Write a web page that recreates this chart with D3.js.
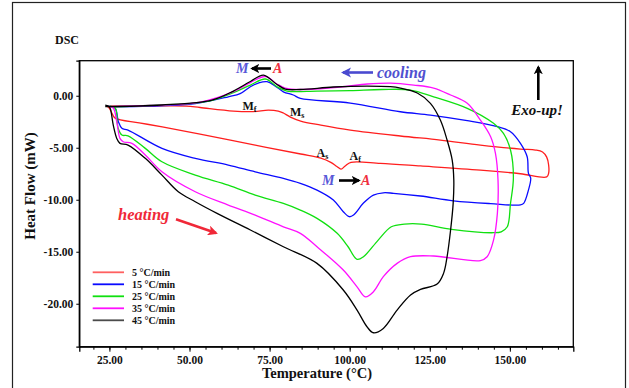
<!DOCTYPE html>
<html>
<head>
<meta charset="utf-8">
<script src="https://cdn.jsdelivr.net/npm/d3@7"></script>
<style>
  body { margin: 0; background: #fff; }
  svg { display: block; }
  text { font-family: "Liberation Serif", "DejaVu Serif", serif; font-weight: bold; }
</style>
</head>
<body>
<svg id="chart" width="629" height="388"></svg>
<script>
// DSC loops [temperature °C, heat flow mW], heating branch then cooling branch
var rate5 = [[24.0,-0.95],[25.0,-1.2],[25.9,-1.75],[26.8,-2.15],[34.3,-2.6],[41.5,-3.0],[53.3,-3.7],[70.5,-4.75],
  [84.7,-5.6],[91.0,-6.0],[94.1,-6.4],[96.0,-6.8],[97.3,-7.05],[98.6,-6.75],[100.4,-6.4],[109.6,-6.5],[122.1,-6.75],
  [140.8,-7.15],[153.3,-7.5],[161.5,-7.8],[162.1,-7.44],[162.1,-6.66],[161.5,-5.9],[160.2,-5.41],[158.0,-5.22],
  [153.3,-5.13],[140.8,-4.74],[128.3,-4.26],[115.8,-3.87],[100.2,-3.3],[91.0,-2.82],[84.7,-2.43],[81.5,-2.05],
  [79.3,-1.66],[77.7,-1.47],[74.6,-1.38],[69.9,-1.52],[63.7,-1.47],[53.3,-1.13],[49.0,-0.99],[37.7,-0.99],[25.2,-0.99]];

var rate15 = [[24.6,-0.99],[26.8,-1.21],[27.8,-2.5],[28.9,-3.13],[30.8,-3.3],[41.4,-5.06],[51.8,-6.02],[62.1,-6.66],
  [70.5,-7.31],[79.3,-7.94],[84.6,-8.42],[89.8,-9.07],[94.9,-10.02],[98.0,-11.15],[99.9,-11.63],[101.2,-11.47],
  [104.3,-10.32],[107.4,-9.55],[110.5,-9.33],[113.7,-9.38],[122.1,-9.64],[132.4,-10.1],[144.0,-10.37],[153.3,-10.5],
  [154.3,-10.35],[155.8,-9.07],[156.5,-7.91],[155.8,-7.46],[155.4,-5.87],[153.3,-4.58],[150.2,-3.46],[146.1,-2.98],
  [136.7,-2.4],[125.2,-1.86],[115.8,-1.54],[100.2,-0.7],[84.6,-0.25],[82.4,0.07],[79.3,0.38],[76.8,0.93],[74.2,1.35],
  [71.5,1.22],[69.0,0.87],[65.8,0.2],[62.1,-0.1],[51.8,-0.75],[37.7,-0.99],[25.8,-1.06]];

var rate25 = [[24.6,-0.99],[26.8,-1.18],[27.7,-3.1],[28.9,-3.78],[30.8,-3.85],[36.2,-5.06],[41.4,-6.35],[51.8,-7.63],
  [62.1,-8.59],[70.5,-9.55],[79.3,-10.35],[84.6,-10.99],[89.8,-11.79],[96.1,-13.23],[99.5,-14.52],[102.3,-15.73],
  [104.3,-15.48],[108.9,-13.88],[113.0,-12.6],[117.1,-12.34],[122.4,-12.34],[131.8,-12.85],[144.9,-13.17],
  [147.3,-13.08],[149.2,-12.6],[150.2,-10.35],[151.1,-7.91],[150.2,-5.22],[148.0,-3.62],[144.9,-2.65],[136.7,-1.21],
  [126.2,-0.1],[119.0,0.55],[110.0,0.6],[100.2,0.5],[89.8,0.45],[80.4,0.45],[77.3,0.87],[73.7,1.61],[69.0,1.03],
  [63.7,0.3],[57.0,-0.45],[51.8,-0.7],[37.7,-0.94],[25.8,-1.06]];

var rate35 = [[24.6,-0.99],[26.2,-1.18],[27.3,-2.5],[28.3,-4.1],[29.3,-4.42],[32.0,-4.58],[36.2,-5.7],[41.4,-7.31],
  [51.8,-9.23],[62.1,-10.51],[70.5,-11.47],[79.3,-12.6],[84.6,-13.23],[89.8,-14.52],[98.0,-16.76],[102.3,-18.37],
  [104.9,-19.33],[107.4,-18.85],[110.5,-17.4],[114.8,-16.12],[119.0,-15.48],[126.2,-15.41],[140.8,-15.85],
  [142.9,-15.48],[144.9,-13.88],[146.1,-11.31],[146.3,-8.11],[145.5,-5.54],[144.0,-3.94],[140.8,-2.34],[136.7,-0.73],
  [131.5,0.07],[126.2,0.74],[120.0,1.03],[112.8,1.22],[105.5,1.13],[97.0,0.84],[84.6,0.6],[79.9,0.74],[77.3,1.13],
  [73.7,1.85],[69.0,1.27],[63.7,0.4],[53.3,-0.61],[37.7,-0.94],[25.2,-1.04]];

var rate45 = [[23.7,-0.9],[24.6,-0.99],[25.2,-1.18],[26.2,-2.82],[27.3,-4.1],[28.3,-4.58],[30.8,-4.74],[36.2,-6.02],
  [41.4,-7.63],[46.5,-9.23],[51.8,-10.19],[58.6,-11.31],[69.0,-12.91],[79.3,-14.52],[89.8,-16.12],[98.0,-18.68],
  [102.3,-20.61],[105.4,-22.21],[107.4,-22.79],[110.5,-22.37],[114.8,-20.61],[119.0,-19.16],[122.1,-18.62],
  [127.3,-18.11],[129.3,-17.08],[130.4,-15.48],[131.5,-12.91],[132.3,-10.35],[132.5,-8.11],[132.0,-6.18],
  [130.4,-4.26],[128.3,-2.34],[125.2,-0.73],[121.1,0.26],[115.8,0.74],[112.7,0.87],[105.4,0.93],[94.9,0.84],
  [84.6,0.6],[79.9,0.64],[77.1,1.13],[73.1,1.99],[69.0,1.37],[63.7,0.45],[57.0,-0.41],[41.4,-0.89],[23.7,-1.04]];

var rateLabels = ['5 °C/min', '15 °C/min', '25 °C/min', '35 °C/min', '45 °C/min'];
var rateColors = ['#ff1e1e', '#0a0aff', '#10e010', '#ff10ff', '#000000'];
var xMajor = [25, 50, 75, 100, 125, 150];
var yMajor = [0, -5, -10, -15, -20];

var series = [rate5, rate15, rate25, rate35, rate45];

var svg = d3.select('#chart');
var plot = { l: 79.3, r: 573.3, t: 60.7, b: 346.7 };

svg.append('rect').attr('width', 629).attr('height', 388).attr('fill', '#fff');
// outer frame
svg.append('rect')
    .attr('x', 12.5).attr('y', 2.5).attr('width', 613).attr('height', 420)
    .attr('fill', 'none').attr('stroke', '#222').attr('stroke-width', 1.2);

var x = d3.scaleLinear().domain([15.6, 169.8]).range([plot.l, plot.r]);
var y = d3.scaleLinear().domain([-24.13, 3.37]).range([plot.b, plot.t]);

var defs = svg.append('defs');
function marker(id, color, w, h) {
    defs.append('marker')
        .attr('id', id)
        .attr('viewBox', '0 0 10 10')
        .attr('refX', 8).attr('refY', 5)
        .attr('markerWidth', w).attr('markerHeight', h)
        .attr('markerUnits', 'userSpaceOnUse')
        .attr('orient', 'auto')
        .append('path')
        .attr('d', 'M0,0 L10,5 L0,10 L2.5,5 Z')
        .attr('fill', color);
}
marker('headBlack', '#000', 9, 10);
marker('headBlue', '#4a4ad0', 10, 11);
marker('headRed', '#f02838', 11, 10);

// plot frame
svg.append('rect')
    .attr('x', plot.l).attr('y', plot.t)
    .attr('width', plot.r - plot.l).attr('height', plot.b - plot.t)
    .attr('fill', 'none').attr('stroke', '#000').attr('stroke-width', 1.3);

// axes (plain hyphen for negatives, like the original software)
var fmt = function(d) { return d3.format('.2f')(d).replace('\u2212', '-'); };
var xAxis = d3.axisBottom(x).tickValues(xMajor).tickFormat(fmt).tickSize(5).tickPadding(4);
var xMinor = d3.axisBottom(x).tickValues(d3.range(20, 170, 5)).tickFormat('').tickSize(3);
var yAxis = d3.axisLeft(y).tickValues(yMajor).tickFormat(fmt).tickSize(3).tickPadding(3);

svg.append('g').attr('transform', 'translate(0,' + plot.b + ')').call(xMinor)
    .call(function(g) { g.select('.domain').remove(); });
var gx = svg.append('g').attr('transform', 'translate(0,' + plot.b + ')').call(xAxis);
var gy = svg.append('g').attr('transform', 'translate(' + plot.l + ',0)').call(yAxis);
[gx, gy].forEach(function(g) {
    g.select('.domain').attr('stroke-width', 1.3);
    g.selectAll('text').attr('font-size', '11.5px').attr('fill', '#111')
        .attr('font-family', '"Liberation Serif", serif').attr('font-weight', 'bold');
});
svg.selectAll('.tick line').attr('stroke', '#000');

// curves
var line = d3.line()
    .x(function(d) { return x(d[0]); })
    .y(function(d) { return y(d[1]); })
    .curve(d3.curveCatmullRom.alpha(0.5));

svg.append('g').selectAll('path')
    .data(series)
    .enter()
    .append('path')
    .attr('d', line)
    .attr('fill', 'none')
    .attr('stroke', function(d, i) { return rateColors[i]; })
    .attr('stroke-width', 1.3)
    .attr('stroke-linejoin', 'round');

// legend
var legend = svg.append('g');
rateLabels.forEach(function(lbl, i) {
    var ly = 272.3 + i * 12;
    legend.append('line')
        .attr('x1', 92.7).attr('x2', 124).attr('y1', ly).attr('y2', ly)
        .attr('stroke', rateColors[i]).attr('stroke-width', 1.8)
        .attr('opacity', i === 0 ? 0.7 : (i === 4 ? 0.7 : 1));
    legend.append('text')
        .attr('x', 132).attr('y', ly + 3.5)
        .attr('font-size', '10px').attr('fill', '#111')
        .text(lbl);
});

// titles
svg.append('text').attr('x', 55).attr('y', 44).attr('font-size', '12px').attr('fill', '#111').text('DSC');
svg.append('text')
    .attr('transform', 'translate(35,186) rotate(-90)')
    .attr('text-anchor', 'middle').attr('font-size', '15px').attr('fill', '#111')
    .text('Heat Flow (mW)');
svg.append('text')
    .attr('x', 317).attr('y', 378)
    .attr('text-anchor', 'middle').attr('font-size', '14.5px').attr('fill', '#111')
    .text('Temperature (°C)');

// annotations
function italic(txt, xp, yp, size, color, anchor) {
    return svg.append('text')
        .attr('x', xp).attr('y', yp)
        .attr('font-size', size + 'px').attr('font-style', 'italic')
        .attr('fill', color).attr('text-anchor', anchor || 'start')
        .text(txt);
}
function arrow(x1, y1, x2, y2, color, w, head) {
    svg.append('line')
        .attr('x1', x1).attr('y1', y1).attr('x2', x2).attr('y2', y2)
        .attr('stroke', color).attr('stroke-width', w)
        .attr('marker-end', 'url(#' + head + ')');
}

// M <- A above the exothermic peak
italic('M', 236, 73, 14, '#5858d8');
arrow(271, 68.5, 252, 68.5, '#000', 2.6, 'headBlack');
italic('A', 273, 73, 14, '#f03040');

// M -> A near the endothermic dip
italic('M', 322, 185, 14, '#5858d8');
arrow(339, 180.5, 359, 180.5, '#000', 2.6, 'headBlack');
italic('A', 361, 185, 14, '#f03040');

// cooling
arrow(373, 72.5, 343, 72.5, '#4a4ad0', 2.6, 'headBlue');
italic('cooling', 377, 78, 16, '#5050d0');

// heating
italic('heating', 118, 220, 16.5, '#f02838');
arrow(176, 219.3, 216, 233, '#f02838', 2.6, 'headRed');

// exo up
arrow(538.3, 100, 538.3, 67, '#000', 2.6, 'headBlack');
italic('Exo-up!', 537, 115, 15, '#111', 'middle');

// transformation temperatures
function sub(main, s, xp, yp) {
    var t = svg.append('text').attr('x', xp).attr('y', yp).attr('font-size', '12px').attr('fill', '#111');
    t.append('tspan').text(main);
    t.append('tspan').attr('font-size', '8px').attr('dy', 2).text(s);
}
sub('M', 'f', 242.5, 109.5);
sub('M', 's', 290, 116);
sub('A', 's', 316.5, 156.5);
sub('A', 'f', 349.5, 159.5);
</script>
</body>
</html>
